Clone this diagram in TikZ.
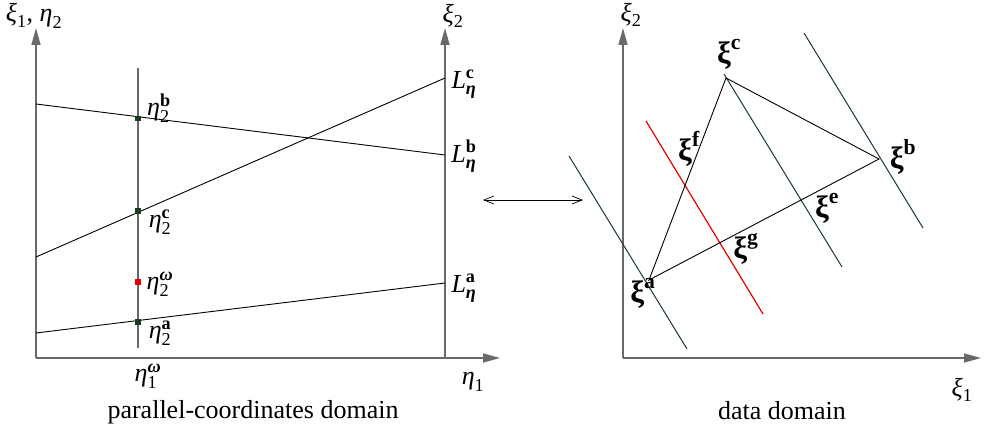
\documentclass[tikz,border=0pt]{standalone}
\usepackage{amsmath}
\usepackage{fontspec}
\setmainfont{Liberation Serif}
\usetikzlibrary{arrows.meta}
\definecolor{axisgray}{RGB}{105,105,105}
\definecolor{dgreen}{RGB}{25,60,30}
\definecolor{redl}{RGB}{230,0,0}
\newcommand{\pcs}[3]{$\text{\itshape #1}_{\text{#2}}^{\text{\bfseries #3}}$}
\newcommand{\bxi}[1]{$\text{\bfseries ξ}^{\text{\bfseries #1}}$}
\begin{document}
\begin{tikzpicture}[x=1pt,y=-1pt,
  every node/.style={font=\fontsize{26}{30}\selectfont, inner sep=0pt},
  axis/.style={draw=axisgray, line width=1.5pt, -{Triangle[length=17pt,width=9pt]}},
  plain/.style={draw=axisgray, line width=1.5pt},
  dline/.style={draw=black, line width=0.9pt},
  gline/.style={draw=dgreen, line width=1pt},
  rline/.style={draw=redl, line width=1.2pt},
  sq/.style={fill=dgreen, minimum size=5.5pt, inner sep=0pt, draw=none},
  rsq/.style={fill=redl, minimum size=5.5pt, inner sep=0pt, draw=none},
  lab/.style={anchor=center},
  xlab/.style={anchor=center, font=\fontsize{31}{34}\selectfont}]
\useasboundingbox (0,0) rectangle (986,433);
% ---------- left panel ----------
\coordinate (O1) at (36,358);
\coordinate (Ytop1) at (36,28);
\coordinate (Xend1) at (500,358);
\coordinate (R0) at (445,358);
\coordinate (Rtop) at (445,28);
\coordinate (M0) at (138,348);
\coordinate (Mtop) at (138,68);
\draw[axis] (O1) -- (Ytop1);
\draw[axis] (O1) -- (Xend1);
\draw[axis] (R0) -- (Rtop);
\draw[plain] (M0) -- (Mtop);
\coordinate (Lb0) at (36,104);   \coordinate (Lb1) at (445,155);
\coordinate (Lc0) at (36,257);   \coordinate (Lc1) at (445,78);
\coordinate (La0) at (36,333);   \coordinate (La1) at (445,283);
\draw[dline] (Lb0) -- (Lb1);
\draw[dline] (Lc0) -- (Lc1);
\draw[dline] (La0) -- (La1);
\node[sq] (pb) at (138,118.5) {};
\node[sq] (pc) at (138,211) {};
\node[rsq] (pw) at (138,282) {};
\node[sq] (pa) at (138,322) {};
\node[lab] (tl) at (34,16) {$\text{\itshape ξ}_{\text{1}}$, $\text{\itshape η}_{\text{2}}$};
\node[lab] (tr) at (453,16) {$\text{\itshape ξ}_{\text{2}}$};
\node[lab] (e2b) at (159,108) {\pcs{η}{2}{b}};
\node[lab] (e2c) at (160,222) {\pcs{η}{2}{c}};
\node[lab] (e2w) at (160,284) {$\text{\itshape η}_{\text{2}}^{\text{\bfseries\itshape ω}}$};
\node[lab] (e2a) at (160,333) {\pcs{η}{2}{a}};
\node[lab] (Lc) at (464,84) {$\text{\itshape L}_{\text{\bfseries\itshape η}}^{\text{\bfseries c}}$};
\node[lab] (Lb) at (464,156) {$\text{\itshape L}_{\text{\bfseries\itshape η}}^{\text{\bfseries b}}$};
\node[lab] (La) at (464,288) {$\text{\itshape L}_{\text{\bfseries\itshape η}}^{\text{\bfseries a}}$};
\node[lab] (e1w) at (148,376) {$\text{\itshape η}_{\text{1}}^{\text{\bfseries\itshape ω}}$};
\node[lab] (e1) at (473,382) {$\text{\itshape η}_{\text{1}}$};
\node[lab] (cap1) at (253,412) {parallel-coordinates domain};
% ---------- double arrow ----------
\coordinate (da0) at (483,200);
\coordinate (da1) at (583,200);
\draw[draw=black, line width=0.7pt, {Straight Barb[length=10pt,width=8pt]}-{Straight Barb[length=10pt,width=8pt]}] (da0) -- (da1);
% ---------- right panel ----------
\coordinate (O2) at (623,358);
\coordinate (Ytop2) at (623,28);
\coordinate (Xend2) at (981,358);
\draw[axis] (O2) -- (Ytop2);
\draw[axis] (O2) -- (Xend2);
\coordinate (A) at (649,280);
\coordinate (C) at (726,78);
\coordinate (B) at (879,159);
\draw[gline] (569,156) coordinate (ga0) -- (687,349) coordinate (ga1);
\draw[gline] (724,74) coordinate (gc0) -- (842,267) coordinate (gc1);
\draw[gline] (804,33) coordinate (gb0) -- (923,228) coordinate (gb1);
\draw[rline] (646,121) coordinate (r0) -- (763,314) coordinate (r1);
\draw[dline] (A) -- (C) -- (B) -- cycle;
\node[lab] (t2) at (631,15) {$\text{\itshape ξ}_{\text{2}}$};
\node[lab] (t1) at (962,390) {$\text{\itshape ξ}_{\text{1}}$};
\node[xlab] (xc) at (729,54) {\bxi{c}};
\node[xlab] (xf) at (689,149) {\bxi{f}};
\node[xlab] (xb) at (903,157) {\bxi{b}};
\node[xlab] (xe) at (827,208) {\bxi{e}};
\node[xlab] (xg) at (746,249) {\bxi{g}};
\node[xlab] (xa) at (643,293) {\bxi{a}};
\node[lab] (cap2) at (782,411) {data domain};
\end{tikzpicture}
\end{document}
